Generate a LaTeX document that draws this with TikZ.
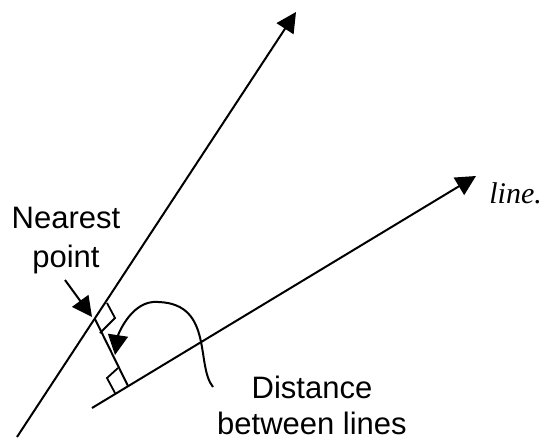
\documentclass[tikz,border=0pt]{standalone}
\usepackage{fontspec}
\setmainfont{Liberation Sans}
\newfontfamily\timesfont{Liberation Serif}
\usetikzlibrary{positioning,arrows.meta,calc}

\begin{document}
\begin{tikzpicture}[x=0.5pt, y=-0.5pt,
  line/.style={line width=1pt, -{Triangle[length=10pt, width=10pt]}},
  plain/.style={line width=1pt},
  anglemark/.style={line width=0.9pt},
  label/.style={font=\fontsize{15.5}{18}\selectfont, align=center, inner sep=0pt}
]
\useasboundingbox (0,0) rectangle (542,439);

% the two lines
\coordinate (A0) at (17,437);
\coordinate (A1) at (296,12);
\coordinate (B0) at (92,408);
\coordinate (B1) at (476,176);
\draw[line] (A0) -- (A1);
\draw[line] (B0) -- (B1);

% common perpendicular
\coordinate (P) at (95,319);
\coordinate (Q) at (128,386);
\draw[plain] (P) -- (Q);

% right-angle marks
\draw[anglemark] (107,303) -- (115,318) -- (100,333);
\draw[anglemark] (118,368) -- (107,378) -- (115,393);

% labels
\node[label, anchor=south] (near) at (66,274.5) {Nearest\\[1.5pt]point};
\node[label, anchor=south] (dist) at (312,435) {Distance\\between lines};
\node[font=\timesfont\itshape\fontsize{15}{16}\selectfont, anchor=base west, inner sep=0pt]
  (name) at (489,203) {line.};

% pointers
\coordinate (nearstart) at (65,280);
\coordinate (neartip) at (92,317);
\draw[line] (nearstart) -- (neartip);
\coordinate (diststart) at (213,387);
\coordinate (disttip) at (115,355);
\draw[line] (diststart) .. controls (195,365) and (215,300) .. (153,302)
  .. controls (130,304) and (118,335) .. (disttip);
\end{tikzpicture}
\end{document}
